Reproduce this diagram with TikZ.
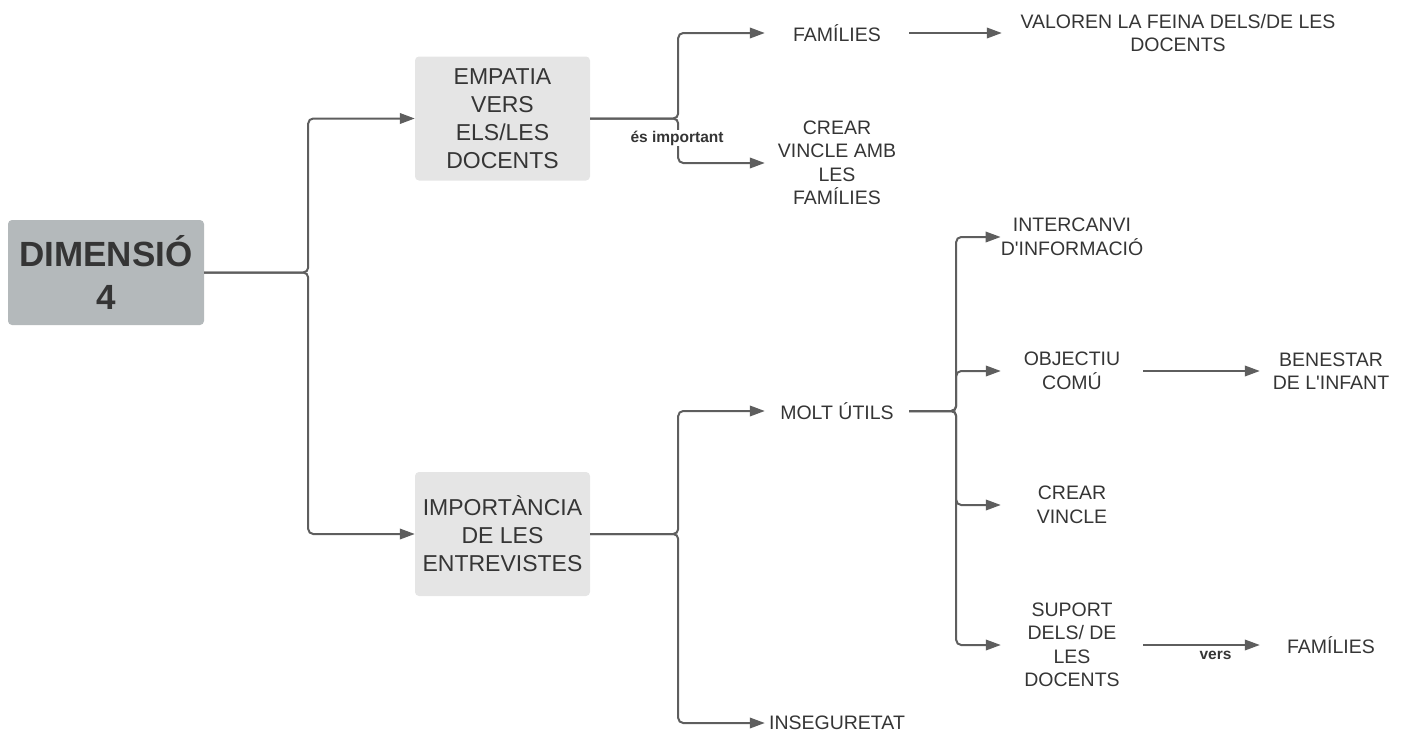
\documentclass[tikz,border=0pt]{standalone}
\usepackage{fontspec}
\setmainfont{Liberation Sans}
\usetikzlibrary{arrows.meta}
\definecolor{ln}{HTML}{5E5E5E}
\definecolor{tx}{HTML}{353535}
\definecolor{rootfill}{HTML}{B4B9BB}
\definecolor{boxfill}{HTML}{E5E5E5}
\begin{document}
\begin{tikzpicture}[x=1pt,y=-1pt,
  txt/.style={text=tx, font=\fontsize{19.5}{23.5}\selectfont, align=center, inner sep=0pt},
  rootbox/.style={fill=rootfill, rounded corners=4pt, minimum width=196pt, minimum height=105pt, inner sep=0pt, text=tx, font=\fontsize{35}{43}\selectfont\bfseries, align=center},
  catbox/.style={fill=boxfill, rounded corners=4pt, minimum width=175pt, minimum height=124pt, inner sep=0pt, text=tx, font=\fontsize{23}{28}\selectfont, align=center},
  conn/.style={draw=ln, line width=2pt, rounded corners=5pt, -{Triangle[length=15pt,width=10.5pt]}},
  lbl/.style={text=tx, font=\fontsize{15.5}{18}\selectfont\bfseries, inner sep=1pt}
]
\useasboundingbox (0,0) rectangle (1407,736);

% nodes
\node[rootbox] (root) at (106,272.5) {DIMENSIÓ\\4};
\node[catbox] (emp) at (502.5,118.5) {EMPATIA\\VERS\\ELS/LES\\DOCENTS};
\node[catbox] (imp) at (502.5,534) {IMPORTÀNCIA\\DE LES\\ENTREVISTES};

\node[txt, minimum width=144pt] (fam1) at (837,33) {FAMÍLIES};
\node[txt, minimum width=352pt] (val) at (1178,33) {VALOREN LA FEINA DELS/DE LES\\DOCENTS};
\node[txt, minimum width=144pt] (crear1) at (837,163) {CREAR\\VINCLE AMB\\LES\\FAMÍLIES};
\node[txt, minimum width=144pt] (molt) at (837,411) {MOLT ÚTILS};
\node[txt, minimum width=144pt] (inseg) at (837,723) {INSEGURETAT};

\node[txt, minimum width=142pt] (inter) at (1072,237) {INTERCANVI\\D\textquotesingle INFORMACIÓ};
\node[txt, minimum width=142pt] (obj) at (1072,371) {OBJECTIU\\COMÚ};
\node[txt, minimum width=142pt] (ben) at (1331,371) {BENESTAR\\DE L\textquotesingle INFANT};
\node[txt, minimum width=142pt] (crear2) at (1072,505) {CREAR\\VINCLE};
\node[txt, minimum width=142pt] (sup) at (1072,645) {SUPORT\\DELS/ DE\\LES\\DOCENTS};
\node[txt, minimum width=142pt] (fam2) at (1331,645) {FAMÍLIES};

% connectors
\draw[conn] (root.east) -- ++(104,0) |- (emp.west);
\draw[conn] (root.east) -- ++(104,0) |- (imp.west);

\draw[conn] (emp.east) -- ++(88,0) |- (fam1.west);
\draw[conn] (emp.east) -- ++(88,0) |- (crear1.west);
\node[lbl, fill=white] (esimp) at (677,138) {és important};

\draw[conn] (fam1.east) -- (val.west);

\draw[conn] (imp.east) -- ++(88,0) |- (molt.west);
\draw[conn] (imp.east) -- ++(88,0) |- (inseg.west);

\draw[conn] (molt.east) -- ++(47,0) |- (inter.west);
\draw[conn] (molt.east) -- ++(47,0) |- (obj.west);
\draw[conn] (molt.east) -- ++(47,0) |- (crear2.west);
\draw[conn] (molt.east) -- ++(47,0) |- (sup.west);

\draw[conn] (obj.east) -- (ben.west);
\draw[conn] (sup.east) -- node[lbl, pos=0.62, below=4pt] {vers} (fam2.west);
\end{tikzpicture}
\end{document}
